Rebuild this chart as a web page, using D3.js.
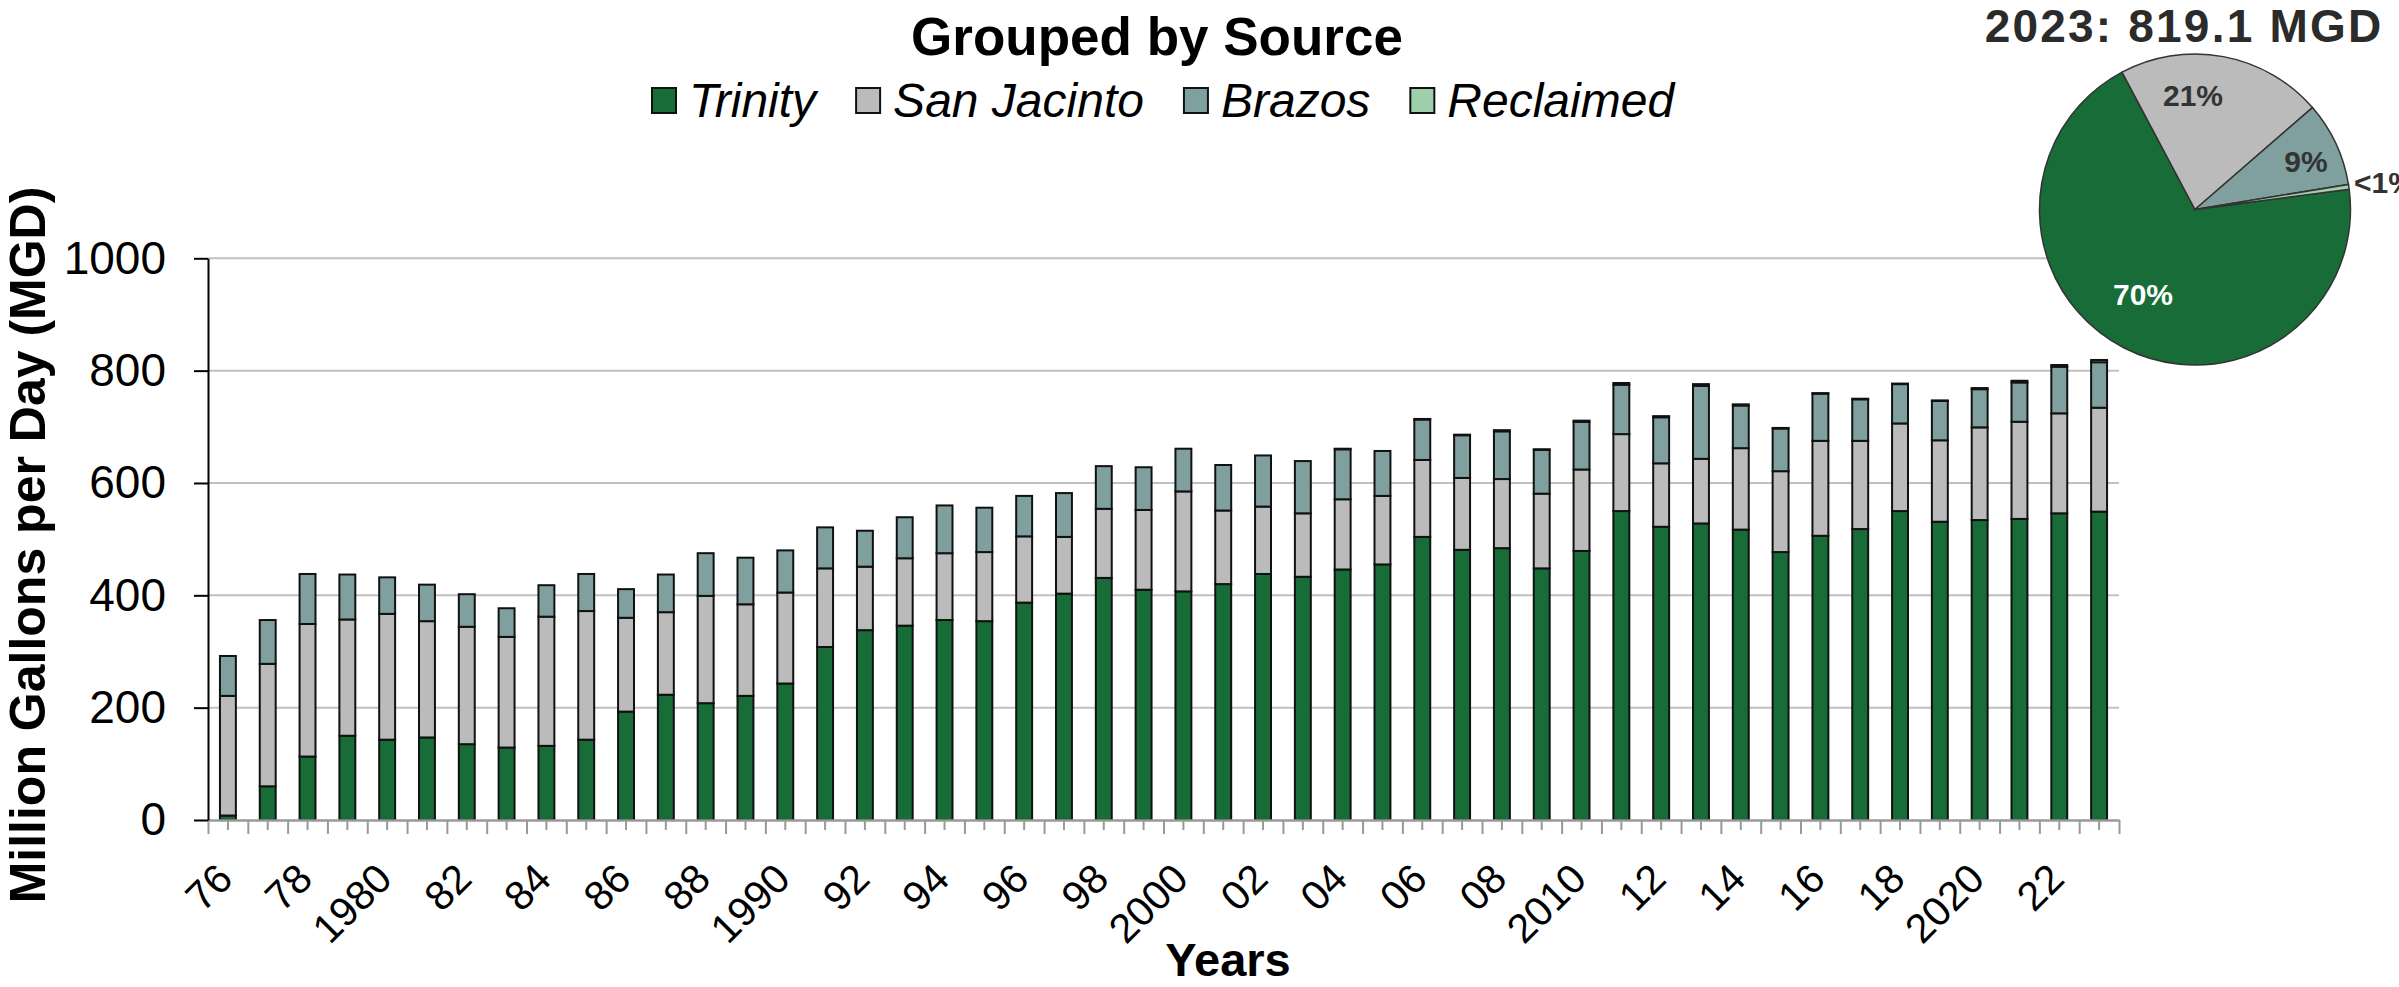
<!DOCTYPE html>
<html><head><meta charset="utf-8">
<script src="https://cdn.jsdelivr.net/npm/d3@7"></script>
<style>
html,body{margin:0;padding:0;background:#fff;}
svg{display:block;}
text{font-family:"Liberation Sans",Arial,sans-serif;}
</style></head>
<body>
<svg id="chart" width="2399" height="987"></svg>
<script>
const years = [1976,1977,1978,1979,1980,1981,1982,1983,1984,1985,1986,1987,1988,1989,1990,1991,1992,1993,1994,1995,1996,1997,1998,1999,2000,2001,2002,2003,2004,2005,2006,2007,2008,2009,2010,2011,2012,2013,2014,2015,2016,2017,2018,2019,2020,2021,2022,2023];
const trinity = [8,60,113,150,143,147,135,129,132,143,193,223,208,221,243,308,338,346,356,354,387,403,431,410,407,420,438,433,446,455,504,481,484,448,479,550,522,528,517,477,506,518,550,531,534,536,546,549];
const sanJacinto = [213,218,236,207,224,207,209,197,230,229,167,147,191,163,162,140,113,120,119,123,118,101,123,142,178,131,120,113,125,122,137,128,123,133,145,137,113,115,145,144,169,157,156,145,165,173,178,185];
const brazos = [71,78,89,80,65,65,58,51,56,66,51,67,76,83,75,73,64,73,85,79,72,78,76,76,76,81,91,93,89,80,72,76,85,78,85,88,82,130,76,76,84,74,70,70,68,70,83,81];
const reclaimed = [0,0,0,0,0,0,0,0,0,0,0,0,0,0,0,0,0,0,0,0,0,0,0,0,0,0,0,0,1,0,1,1,2,1,2,3,2,3,2,1,1,1,1,1,2,3,3,4];
const seriesNames = ["Trinity","San Jacinto","Brazos","Reclaimed"];
const seriesKeys = ["trinity","sanJacinto","brazos","reclaimed"];
const colors = ["#176c38","#bbbbbb","#80a0a0","#9fceab"];
const yTicks = [0,200,400,600,800,1000];
const labelYears = [1976,1978,1980,1982,1984,1986,1988,1990,1992,1994,1996,1998,2000,2002,2004,2006,2008,2010,2012,2014,2016,2018,2020,2022];
const pieTitle = "2023: 819.1 MGD";
const pieShares = [69.3,21.4,8.8,0.5];
const pieLabels = ["70%","21%","9%","<1%"];

const svg = d3.select("#chart");
const L = 208, R = 2119, T = 258.3, B = 820;

const rows = years.map((y,i)=>({year:y, trinity:trinity[i], sanJacinto:sanJacinto[i], brazos:brazos[i], reclaimed:reclaimed[i]}));
const x = d3.scaleBand().domain(years).range([L,R]).paddingInner(0.6).paddingOuter(0.3);
const xb = d3.scaleLinear().domain([0,years.length]).range([L,R]);
const y = d3.scaleLinear().domain([0,1000]).range([B,T]);

// gridlines
svg.append("g").selectAll("line").data(yTicks.filter(d=>d>0)).join("line")
  .attr("x1",L).attr("x2",R).attr("y1",d=>y(d)).attr("y2",d=>y(d))
  .attr("stroke","#c0c0c0").attr("stroke-width",2);

// bars
const stack = d3.stack().keys(seriesKeys)(rows);
svg.append("g").selectAll("g").data(stack).join("g")
  .attr("fill",(d,i)=>colors[i])
  .selectAll("rect").data(d=>d.filter(s=>s[1]-s[0]>0)).join("rect")
  .attr("x",d=>x(d.data.year)).attr("width",x.bandwidth())
  .attr("y",d=>y(d[1])).attr("height",d=>y(d[0])-y(d[1]))
  .attr("stroke","#111").attr("stroke-width",2);

// x axis: short ticks at centers, long at boundaries
const gx1 = svg.append("g").attr("transform",`translate(0,${B})`)
  .call(d3.axisBottom(x).tickSize(10).tickFormat("").tickSizeOuter(0));
const gx2 = svg.append("g").attr("transform",`translate(0,${B})`)
  .call(d3.axisBottom(xb).tickValues(d3.range(0,years.length+1)).tickSize(14).tickFormat("").tickSizeOuter(0));
[gx1,gx2].forEach(g=>{g.selectAll("line").attr("stroke","#999").attr("stroke-width",2);g.select(".domain").attr("stroke","#999").attr("stroke-width",2);});

// x labels
svg.append("g").selectAll("text").data(labelYears).join("text")
  .attr("transform",d=>`translate(${x(d)+x.bandwidth()/2+7},881) rotate(-45)`)
  .attr("text-anchor","end").attr("font-size",41).attr("fill","#000")
  .text(d=> (d%10===0) ? String(d) : String(d%100).padStart(2,"0"));

// y axis
const gy = svg.append("g").attr("transform",`translate(${L},0)`)
  .call(d3.axisLeft(y).tickValues(yTicks).tickFormat(d3.format("d")).tickSize(14).tickPadding(28).tickSizeOuter(0));
gy.select(".domain").attr("stroke","#000").attr("stroke-width",2);
gy.selectAll("line").attr("stroke","#000").attr("stroke-width",2);
gy.selectAll("text").attr("font-size",46).attr("fill","#000").attr("font-family","'Liberation Sans',Arial,sans-serif");

// axis titles
svg.append("text").attr("transform","translate(45,545) rotate(-90)").attr("text-anchor","middle")
  .attr("font-size",50).attr("font-weight","bold").text("Million Gallons per Day (MGD)");
svg.append("text").attr("x",1228).attr("y",976).attr("text-anchor","middle")
  .attr("font-size",47).attr("font-weight","bold").text("Years");

// title
svg.append("text").attr("x",1157).attr("y",55).attr("text-anchor","middle")
  .attr("font-size",53).attr("font-weight","bold").text("Grouped by Source");

// legend
let lx = 652;
seriesNames.forEach((n,i)=>{
  svg.append("rect").attr("x",lx).attr("y",88).attr("width",24).attr("height",25)
    .attr("fill",colors[i]).attr("stroke","#111").attr("stroke-width",2);
  const t = svg.append("text").attr("x",lx+37).attr("y",116.5).attr("font-size",48)
    .attr("font-style","italic").text(n);
  lx = lx + 37 + t.node().getComputedTextLength() + 40;
});

// pie
const cx = 2195, cy = 209.5, r = 155.5;
const startA = -28*Math.PI/180 - pieShares[0]/100*2*Math.PI;
const pie = d3.pie().sort(null).startAngle(startA).endAngle(startA+2*Math.PI);
const arcs = pie(pieShares);
const arc = d3.arc().innerRadius(0).outerRadius(r);
const pg = svg.append("g").attr("transform",`translate(${cx},${cy})`);
pg.selectAll("path").data(arcs).join("path").attr("d",arc)
  .attr("fill",(d,i)=>colors[i]).attr("stroke","#333").attr("stroke-width",1.5);
const pieLabelPos = [[2143,305,"middle","#fff"],[2193,106,"middle","#333"],[2306,172,"middle","#333"],[2354,193,"start","#333"]];
pieLabels.forEach((t,i)=>{
  svg.append("text").attr("x",pieLabelPos[i][0]).attr("y",pieLabelPos[i][1])
    .attr("text-anchor",pieLabelPos[i][2]).attr("fill",pieLabelPos[i][3])
    .attr("font-size",30).attr("font-weight","bold").text(t);
});
svg.append("text").attr("x",2184).attr("y",42).attr("text-anchor","middle")
  .attr("font-size",46).attr("font-weight","bold").attr("fill","#2b2b2b")
  .attr("letter-spacing",2.2).text(pieTitle);
</script>
</body></html>
